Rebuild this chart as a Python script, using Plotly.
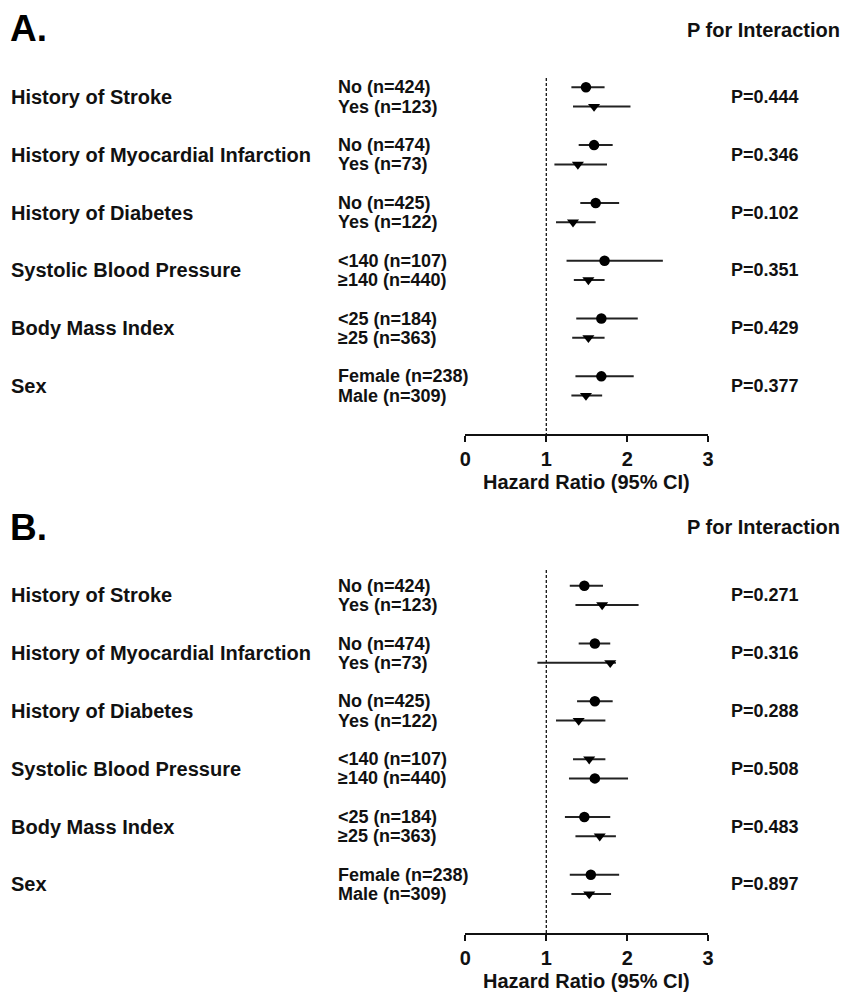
import plotly.graph_objects as go

# Subgroups shown in both panels
groups = ["History of Stroke", "History of Myocardial Infarction", "History of Diabetes",
          "Systolic Blood Pressure", "Body Mass Index", "Sex"]
levels = [["No (n=424)", "Yes (n=123)"],
          ["No (n=474)", "Yes (n=73)"],
          ["No (n=425)", "Yes (n=122)"],
          ["<140 (n=107)", "≥140 (n=440)"],
          ["<25 (n=184)", "≥25 (n=363)"],
          ["Female (n=238)", "Male (n=309)"]]

# Panel A: hazard ratios with 95% CI, two rows per subgroup
hr_a = [1.49, 1.59, 1.59, 1.39, 1.61, 1.33, 1.72, 1.52, 1.68, 1.52, 1.68, 1.49]
lo_a = [1.31, 1.33, 1.40, 1.10, 1.42, 1.12, 1.25, 1.34, 1.37, 1.32, 1.36, 1.31]
hi_a = [1.72, 2.04, 1.82, 1.75, 1.90, 1.61, 2.44, 1.72, 2.13, 1.72, 2.08, 1.69]
sym_a = ["circle", "triangle-down"] * 6
p_a = ["P=0.444", "P=0.346", "P=0.102", "P=0.351", "P=0.429", "P=0.377"]

# Panel B
hr_b = [1.47, 1.69, 1.60, 1.79, 1.60, 1.40, 1.53, 1.60, 1.47, 1.66, 1.55, 1.53]
lo_b = [1.29, 1.36, 1.40, 0.89, 1.38, 1.12, 1.33, 1.28, 1.23, 1.36, 1.29, 1.31]
hi_b = [1.70, 2.14, 1.79, 1.86, 1.82, 1.73, 1.73, 2.01, 1.79, 1.86, 1.90, 1.80]
sym_b = ["circle", "triangle-down", "circle", "triangle-down", "circle", "triangle-down",
         "triangle-down", "circle", "circle", "triangle-down", "circle", "triangle-down"]
p_b = ["P=0.271", "P=0.316", "P=0.288", "P=0.508", "P=0.483", "P=0.897"]

tick_vals = [0, 1, 2, 3]
x_title = "Hazard Ratio (95% CI)"

W, H = 844, 992
FONT = "Liberation Sans, Arial, sans-serif"
INK = "#111111"

# Row positions: three units per subgroup, one unit between its two rows
ypos = [g * 3 + r for g in range(len(groups)) for r in range(2)]

fig = go.Figure()

panels = [
    dict(name="A.", hr=hr_a, lo=lo_a, hi=hi_a, sym=sym_a, p=p_a,
         xa="x", ya="y", yref="y", top=78, axis=434, label_y=29, head_y=30, first=87.3),
    dict(name="B.", hr=hr_b, lo=lo_b, hi=hi_b, sym=sym_b, p=p_b,
         xa="x2", ya="y2", yref="y2", top=570, axis=933, label_y=527, head_y=527, first=585.7),
]

unit = 19.27  # pixels per row unit

annotations = []
for pn in panels:
    # CI whiskers
    for k in range(len(ypos)):
        fig.add_trace(go.Scatter(
            x=[pn["lo"][k], pn["hi"][k]], y=[ypos[k], ypos[k]],
            mode="lines", line=dict(color="#222222", width=2),
            xaxis=pn["xa"], yaxis=pn["ya"], showlegend=False, hoverinfo="skip"))
    # Point estimates
    fig.add_trace(go.Scatter(
        x=pn["hr"], y=ypos, mode="markers",
        marker=dict(symbol=pn["sym"], size=10.5, color="black"),
        xaxis=pn["xa"], yaxis=pn["ya"], showlegend=False))
    # Reference line at HR = 1
    y0 = (pn["top"] - pn["first"]) / unit
    y1 = (pn["axis"] - pn["first"]) / unit
    fig.add_shape(type="line", x0=1, x1=1, y0=y0, y1=y1,
                  xref=pn["xa"], yref=pn["ya"],
                  line=dict(color=INK, width=1.3, dash="3px,2px"))

    # Panel letter and column header
    annotations.append(dict(text="<b>%s</b>" % pn["name"], x=2 / W, xref="paper",
                            y=1 - pn["label_y"] / H, yref="paper",
                            xanchor="left", yanchor="middle", showarrow=False,
                            font=dict(size=37, family=FONT, color="black")))
    annotations.append(dict(text="<b>P for Interaction</b>", x=689 / W, xref="paper",
                            y=1 - pn["head_y"] / H, yref="paper",
                            xanchor="left", yanchor="middle", showarrow=False,
                            font=dict(size=20, family=FONT, color=INK)))
    # Axis title below tick labels
    annotations.append(dict(text="<b>%s</b>" % x_title, x=1.5, xref=pn["xa"],
                            y=1 - (pn["axis"] + 48) / H, yref="paper",
                            xanchor="center", yanchor="middle", showarrow=False,
                            font=dict(size=20, family=FONT, color=INK)))
    for g, name in enumerate(groups):
        ymid = g * 3 + 0.5
        annotations.append(dict(text="<b>%s</b>" % name, x=3 / W, xref="paper",
                                y=ymid, yref=pn["yref"], xanchor="left", yanchor="middle",
                                showarrow=False, font=dict(size=20, family=FONT, color=INK)))
        annotations.append(dict(text="<b>%s</b>" % pn["p"][g], x=733 / W, xref="paper",
                                y=ymid, yref=pn["yref"], xanchor="left", yanchor="middle",
                                showarrow=False, font=dict(size=18, family=FONT, color=INK)))
        for r in range(2):
            annotations.append(dict(text="<b>%s</b>" % levels[g][r], x=335 / W, xref="paper",
                                    y=g * 3 + r, yref=pn["yref"], xanchor="left",
                                    yanchor="middle", showarrow=False,
                                    font=dict(size=18, family=FONT, color=INK)))

x_dom = [466 / W, 712.3 / W]
xaxis_common = dict(domain=x_dom, range=[0, 3], tickvals=tick_vals,
                    showline=True, linecolor=INK, linewidth=2.2,
                    ticks="outside", ticklen=6, tickwidth=2.2, tickcolor=INK,
                    showgrid=False, zeroline=False,
                    tickfont=dict(size=20, family=FONT, color=INK, weight="bold"),
                    fixedrange=True)


def yaxis_for(pn):
    f = pn["first"]
    return dict(domain=[1 - pn["axis"] / H, 1 - pn["top"] / H],
                range=[(pn["axis"] - f) / unit, (pn["top"] - f) / unit],
                visible=False, showgrid=False, zeroline=False, fixedrange=True)


fig.update_layout(
    width=W, height=H, margin=dict(l=0, r=0, t=0, b=0),
    paper_bgcolor="white", plot_bgcolor="white",
    xaxis=dict(xaxis_common, anchor="y"),
    xaxis2=dict(xaxis_common, anchor="y2"),
    yaxis=yaxis_for(panels[0]),
    yaxis2=yaxis_for(panels[1]),
    annotations=annotations,
    font=dict(family=FONT, color=INK),
)

fig.write_html("out.html")
